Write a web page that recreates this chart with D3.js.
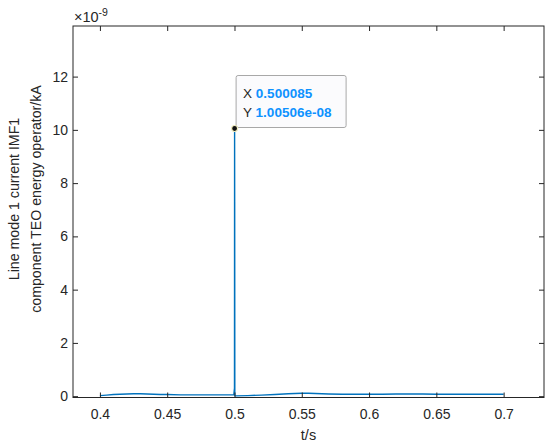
<!DOCTYPE html>
<html><head><meta charset="utf-8">
<script src="https://cdn.jsdelivr.net/npm/d3@7"></script>
<style>body{margin:0;background:#fff}svg{display:block}text{font-family:Arial,"Liberation Sans",sans-serif}</style>
</head><body><svg id="c" width="550" height="445"></svg>
<script>
// data (y in units of 1e-9)
const tValues = [0.400, 0.405, 0.410, 0.415, 0.420, 0.425, 0.430, 0.435, 0.440, 0.445, 0.450, 0.460, 0.470, 0.480, 0.490, 0.4995, 0.50000, 0.500085, 0.50015, 0.50025, 0.5005, 0.510, 0.520, 0.530, 0.540, 0.545, 0.550, 0.555, 0.560, 0.570, 0.580, 0.590, 0.600, 0.610, 0.620, 0.630, 0.640, 0.650, 0.660, 0.670, 0.680, 0.690, 0.700];
const yValues = [0.02, 0.04, 0.06, 0.07, 0.08, 0.09, 0.09, 0.08, 0.07, 0.06, 0.06, 0.05, 0.05, 0.05, 0.05, 0.05, 0.30, 10.0506, 7.30, 0.03, 0.01, 0.02, 0.04, 0.06, 0.09, 0.10, 0.11, 0.11, 0.10, 0.08, 0.07, 0.07, 0.07, 0.07, 0.08, 0.08, 0.08, 0.07, 0.07, 0.07, 0.07, 0.07, 0.07];
const xTicks = [0.4, 0.45, 0.5, 0.55, 0.6, 0.65, 0.7];
const yTicks = [0, 2, 4, 6, 8, 10, 12];
const tipX = 0.500085, tipY = 10.0506;
const tipLabels = ["0.500085", "1.00506e-08"];

const svg = d3.select("#c");
const L = 73, R = 544, T = 26, B = 397.5;
const x = d3.scaleLinear().domain([0.38, 0.73]).range([L, R]);
const y = d3.scaleLinear().domain([-0.05, 13.9]).range([B, T]);
const axisColor = "#262626";

// line
const data = tValues.map((t, i) => [t, yValues[i]]);
svg.append("path").datum(data)
  .attr("fill", "none").attr("stroke", "#0072BD").attr("stroke-width", 1.4)
  .attr("d", d3.line().x(d => x(d[0])).y(d => y(d[1])));

// axes
const fmtX = d => String(d);
const gB = svg.append("g").attr("transform", `translate(0,${B})`)
  .call(d3.axisBottom(x).tickValues(xTicks).tickFormat(fmtX).tickSizeInner(-5).tickSizeOuter(0).tickPadding(12));
const gT = svg.append("g").attr("transform", `translate(0,${T})`)
  .call(d3.axisTop(x).tickValues(xTicks).tickFormat("").tickSizeInner(-5).tickSizeOuter(0));
const gL = svg.append("g").attr("transform", `translate(${L},0)`)
  .call(d3.axisLeft(y).tickValues(yTicks).tickFormat(d => String(d)).tickSizeInner(-5).tickSizeOuter(0).tickPadding(5));
const gR = svg.append("g").attr("transform", `translate(${R},0)`)
  .call(d3.axisRight(y).tickValues(yTicks).tickFormat("").tickSizeInner(-5).tickSizeOuter(0));
[gB, gT, gL, gR].forEach(g => {
  g.select(".domain").remove();
  g.selectAll("line").attr("stroke", axisColor);
  g.selectAll("text").attr("fill", axisColor).style("font-size", "14px");
});
svg.append("rect").attr("x", L).attr("y", T).attr("width", R - L).attr("height", B - T)
  .attr("fill", "none").attr("stroke", axisColor).attr("stroke-width", 1);

// exponent label
const ex = svg.append("text").attr("x", L + 1).attr("y", 22).attr("fill", axisColor).style("font-size", "14.5px");
ex.append("tspan").text("×10");
ex.append("tspan").attr("dy", -6).style("font-size", "10.5px").text("-9");

// axis labels
svg.append("text").attr("x", (L + R) / 2).attr("y", 440).attr("text-anchor", "middle")
  .attr("fill", axisColor).style("font-size", "14.5px").text("t/s");
const yl = svg.append("text").attr("transform", `translate(0,199) rotate(-90)`)
  .attr("text-anchor", "middle").attr("fill", axisColor).style("font-size", "14.2px");
yl.append("tspan").attr("x", 0).attr("y", 19).text("Line mode 1 current IMF1");
yl.append("tspan").attr("x", 0).attr("y", 41).text("component TEO energy operator/kA");

// datatip
const px = x(tipX), py = y(tipY);
const bx = px + 1.5, by = py - 53;
svg.append("rect").attr("x", bx).attr("y", by).attr("width", 110).attr("height", 52).attr("rx", 2)
  .attr("fill", "#fbfbfd").attr("fill-opacity", 0.95).attr("stroke", "#a8a8a8").attr("stroke-width", 1);
["X ", "Y "].forEach((lab, i) => {
  const t = svg.append("text").attr("x", bx + 7).attr("y", by + 22 + i * 19.5).style("font-size", "13.5px");
  t.append("tspan").attr("fill", "#262626").text(lab);
  t.append("tspan").attr("fill", "#0e92ff").attr("font-weight", "bold").text(tipLabels[i]);
});
svg.append("circle").attr("cx", px).attr("cy", py).attr("r", 3).attr("fill", "#111").attr("stroke", "#f2eec0").attr("stroke-width", 1.2);
</script></body></html>
